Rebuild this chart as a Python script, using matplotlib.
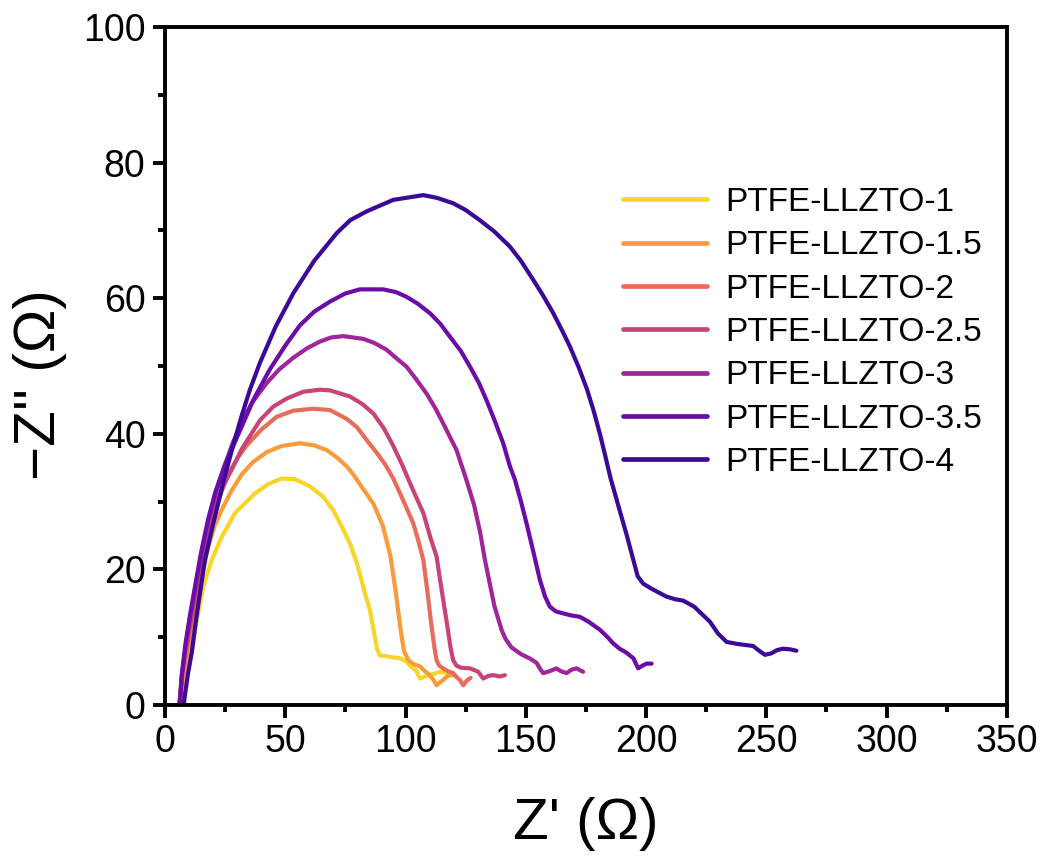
import matplotlib
matplotlib.use("Agg")
import matplotlib.pyplot as plt
from matplotlib.ticker import MultipleLocator

plt.rcParams['font.family'] = ['Liberation Sans', 'DejaVu Sans']

labels = ["PTFE-LLZTO-1", "PTFE-LLZTO-1.5", "PTFE-LLZTO-2", "PTFE-LLZTO-2.5",
          "PTFE-LLZTO-3", "PTFE-LLZTO-3.5", "PTFE-LLZTO-4"]
colors = ["#f7d52a", "#f89b3b", "#e86c5a", "#c84478", "#a0259b", "#6c0ca8", "#3a0998"]

x1 = [6.8, 8, 9.5, 11.3, 13.2, 15.9, 19.4, 23.6, 29.1, 37.4, 43, 48.5, 54, 60, 65.8, 70, 73.5, 76.9, 79.7,
      81.7, 83.5, 85.2, 87, 88.2, 89.4, 92, 95, 97.7, 100.4, 102.5, 104.6, 106, 108, 110.1, 114.3, 118.5]
y1 = [0, 3, 5.5, 8, 12.5, 17.4, 21.4, 24.8, 28.3, 31.2, 32.6, 33.4, 33.3, 32.3, 30.7, 28.7, 26.3, 23.8, 21.0,
      18.4, 16, 14, 10.5, 8.2, 7.3, 7.2, 7.0, 6.9, 6.4, 5.6, 5.0, 3.9, 4.2, 4.4, 4.9, 4.7]

x2 = [5.8, 7, 8.5, 10.5, 12.5, 15, 18, 20.5, 23.6, 27.5, 31.9, 36.5, 42.3, 48.5, 56.1, 62, 67.2, 71.5, 75.5,
      78.3, 82.5, 86.6, 90.5, 93.7, 96, 98, 99.3, 101.2, 103.5, 106, 108, 110.1, 112, 112.9, 114.5, 115.7,
      117.5, 119.8]
y2 = [0, 3, 6, 10, 14, 18.5, 23.3, 26.3, 28.8, 31.5, 34.0, 35.8, 37.3, 38.2, 38.6, 38.3, 37.6, 36.5, 35.2,
      34.0, 31.8, 29.7, 26.5, 22, 16.5, 11, 8.0, 6.6, 6.0, 5.7, 5.0, 4.4, 3.5, 2.9, 3.4, 3.7,
      4.3, 4.4]

x3 = [6, 7, 8.5, 10.5, 12.5, 15, 17.5, 20.5, 23.5, 27, 30.5, 34, 40, 46.4, 53.3, 61.6, 68.6, 75.5, 79.7,
      83.8, 88, 91.5, 94.9, 99, 103.2, 105.5, 107.4, 109, 110.5, 112, 112.9, 114, 115.7, 117.5, 119.8,
      121.5, 122.6, 124, 125.5, 127]
y3 = [0, 3.5, 7, 11, 15, 19.5, 24, 28, 31.5, 34.5, 36.6, 38.3, 40.6, 42.5, 43.4, 43.7, 43.5, 42.2, 41.0,
      39.1, 37.2, 35.5, 33.4, 30.2, 26.8, 24, 21.4, 17, 12.5, 8.5, 6.6, 5.8, 5.4, 5.0, 4.7,
      4.0, 3.7, 2.9, 3.6, 4.0]

x4 = [6, 7, 8.5, 10.5, 12.5, 15, 17.8, 20.8, 24, 27.7, 32, 39.5, 45, 50.6, 57.5, 64.4, 68.6, 76.9, 82,
      86.6, 91, 94.9, 98.5, 102.5, 107.4, 110.5, 112.9, 115, 117, 118.7, 119.8, 121.2, 123, 126.8, 130.2,
      132.3, 134.5, 136.5, 139.2, 141.3]
y4 = [0, 4, 8, 12, 16, 21, 25.5, 29.2, 32.2, 34.7, 37.8, 42.0, 44.0, 45.2, 46.2, 46.5, 46.4, 45.5, 44.4,
      43.0, 40.8, 38.2, 35.5, 32.2, 28.3, 24.5, 21.9, 17, 12.5, 8.5, 6.6, 5.8, 5.5, 5.4, 4.9,
      3.9, 4.3, 4.4, 4.2, 4.4]

x5 = [6, 7, 8.5, 10.5, 12.5, 15, 18, 21, 24.5, 28, 32, 36, 42.3, 47.5, 53.3, 59, 64.4, 69, 74.1, 82.4,
      87, 92.1, 96, 100.4, 104.5, 108.8, 112.5, 115.7, 118.5, 121.2, 125.3, 128.5, 131, 133, 137, 140,
      141.5, 144, 148, 152, 154.5, 156, 157.2, 160, 162.7, 164.5, 166.9, 169, 171.1, 173.8]
y5 = [0, 4.5, 8.5, 13, 17, 22, 27, 31, 35, 38.5, 41.8, 44.5, 47.5, 49.5, 51.2, 52.6, 53.6, 54.2, 54.4, 54.0,
      53.4, 52.4, 51.2, 49.9, 48, 45.9, 43.7, 41.5, 39.5, 37.6, 33.2, 29.5, 25.5, 21.4, 14.5, 11,
      9.8, 8.5, 7.5, 6.8, 6.2, 5.3, 4.7, 5.0, 5.4, 5.0, 4.7, 5.2, 5.4, 4.9]

x6 = [6.2, 7, 8.5, 10.5, 12.5, 15, 18, 21, 25, 31.2, 37, 43.6, 50, 56.1, 62, 68.6, 75, 81, 90.7, 96,
      100.4, 105, 110.1, 114.5, 118.5, 123, 126.8, 130.5, 133.6, 137, 140.6, 143.4, 145.5, 148, 150.3,
      153, 155.9, 158, 160, 162.5, 165.6, 169, 172.5, 176, 180.8, 184, 186.3, 189, 191.5, 194.7, 196.7,
      198.5, 200.2, 202.3]
y6 = [0, 4.5, 9, 13.5, 17.5, 22.5, 27.5, 31.5, 35.5, 40.5, 45.2, 49.5, 53, 56, 58, 59.5, 60.7, 61.3, 61.3,
      60.9, 60.2, 59.2, 57.8, 56.2, 54.3, 52.2, 49.9, 47.5, 45.0, 42, 38.6, 35.2, 33.2, 30, 26.8,
      22.8, 18.4, 16, 14.5, 13.8, 13.5, 13.2, 13.0, 12.3, 11.1, 10, 9.1, 8.3, 7.8, 6.9, 5.4,
      5.8, 6.1, 6.1]

x7 = [7.8, 8.3, 9.5, 11.1, 12.5, 13.9, 16.6, 19.4, 22.2, 24.9, 28.5, 32, 35.3, 39.5, 46, 53.3, 62, 71.4,
      77, 83.8, 94.9, 107.4, 113, 119.8, 125, 130.9, 137, 143.4, 148, 153.1, 157, 161.4, 165, 168.3, 172,
      175.4, 178.2, 180.8, 183, 185.2, 187.2, 189.1, 192, 194.7, 196.5, 198.8, 202, 208.4, 212, 215.4,
      220, 226.5, 230, 233.5, 238, 244.5, 247, 249.4, 252, 254.5, 257, 260, 262.5]
y7 = [0, 1.5, 4.5, 7.7, 11.5, 15, 21.4, 25.8, 29.9, 33.8, 38.5, 42.8, 46.5, 50.5, 55.8, 60.7, 65.5, 69.6,
      71.5, 72.8, 74.5, 75.2, 74.8, 74.0, 73, 71.5, 69.8, 67.6, 65.5, 62.7, 60.5, 57.8, 55.3, 52.9, 49.8,
      46.6, 43.4, 40.0, 36.8, 33.5, 31.0, 28.6, 25, 21.4, 19, 17.9, 17.2, 16.0, 15.6, 15.4,
      14.5, 12.3, 10.5, 9.3, 9.0, 8.7, 8.0, 7.4, 7.6, 8.1, 8.3, 8.2, 8.0]

xs = [x1, x2, x3, x4, x5, x6, x7]
ys = [y1, y2, y3, y4, y5, y6, y7]

fig = plt.figure(figsize=(10.51, 8.59), dpi=100)
ax = fig.add_axes([0.157, 0.1793, 0.801, 0.7893])

for x, y, c, l in zip(xs, ys, colors, labels):
    ax.plot(x, y, color=c, lw=3.0, label=l, solid_joinstyle='round', solid_capstyle='round')

ax.set_xlim(0, 350)
ax.set_ylim(0, 100)
ax.xaxis.set_major_locator(MultipleLocator(50))
ax.xaxis.set_minor_locator(MultipleLocator(25))
ax.yaxis.set_major_locator(MultipleLocator(20))
ax.yaxis.set_minor_locator(MultipleLocator(10))
ax.tick_params(which='major', direction='out', length=9, width=2.8, labelsize=27, pad=5)
ax.tick_params(which='minor', direction='out', length=5, width=2.8)
for s in ax.spines.values():
    s.set_linewidth(2.8)

ax.set_xlabel("Z' (Ω)", fontsize=42, labelpad=26)
ax.set_ylabel("\u2212Z'' (Ω)", fontsize=42)
ax.yaxis.set_label_coords(-0.117, 0.472)

leg = ax.legend(loc='upper left', bbox_to_anchor=(0.544, 0.764), frameon=False,
                fontsize=24, handlelength=2.52, handletextpad=0.54, labelspacing=0.37,
                borderpad=0, borderaxespad=0)
for h in leg.get_lines():
    h.set_linewidth(3.4)
    h.set_solid_capstyle('round')

fig.savefig("out.png", dpi=100)
